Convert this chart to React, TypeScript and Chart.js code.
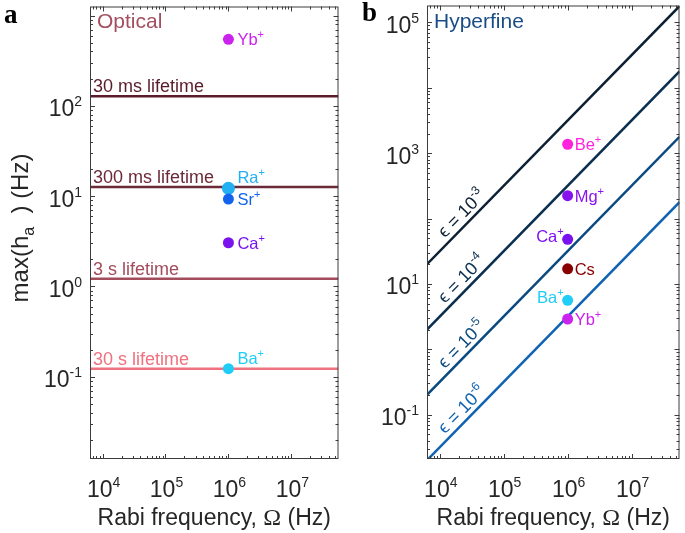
import React, { useEffect, useRef } from 'react';
import { Chart, registerables } from 'chart.js';
Chart.register(...registerables);

// ---------- data ----------
const X_MIN = 6310;
const X_MAX = 5.62e7;
const X_TICK_EXPS = [4, 5, 6, 7];

// panel a (optical)
const A_Y_MIN = 0.0123;
const A_Y_MAX = 1259;
const A_Y_TICK_EXPS = [-1, 0, 1, 2];
const lifetimeLabels = ['30 ms lifetime', '300 ms lifetime', '3 s lifetime', '30 s lifetime'];
const lifetimeLevels = [128, 12.6, 1.22, 0.123];
const lifetimeColors = ['#5a1c2a', '#6c2a38', '#a24c5c', '#f0717f'];
const opticalIons = ['Yb', 'Ra', 'Sr', 'Ca', 'Ba'];
const opticalOmega = [1e6, 1e6, 1e6, 1e6, 1e6];
const opticalH = [545, 12.2, 9.3, 3.05, 0.123];
const opticalColors = ['#cc22ee', '#22b0f2', '#1163ee', '#7a12f0', '#20cdf6'];

// panel b (hyperfine)
const B_Y_MIN = 0.0209;
const B_Y_MAX = 1.82e5;
const B_Y_TICK_EXPS = [-1, 1, 3, 5];
const epsExponents = ['-3', '-4', '-5', '-6'];
const epsStartH = [20, 2, 0.2, 0.02];
const epsEndH = [1.78e5, 1.78e4, 1780, 178];
const epsColors = ['#0c1f33', '#0b2f4f', '#0a4a80', '#1063b2'];
const epsLabelOmega = 2.9e4;
const hyperIons = ['Be', 'Mg', 'Ca', 'Cs', 'Ba', 'Yb'];
const hyperCharge = ['+', '+', '+', '', '+', '+'];
const hyperOmega = [1e6, 1e6, 1e6, 1e6, 1e6, 1e6];
const hyperH = [1370, 224, 48, 17, 5.6, 2.9];
const hyperColors = ['#ff22dd', '#8812ee', '#7a12f0', '#880000', '#20cdf6', '#cc22ee'];

// ---------- styling helpers ----------
const SANS = '"Liberation Sans", Arial, Helvetica, sans-serif';
const SERIF = '"Liberation Serif", "Times New Roman", serif';
const AXIS_COLOR = '#3c3c3c';
const TEXT_COLOR = '#262626';

type Seg = { t: string; size: number; dy?: number; family?: string; bold?: boolean };

function segFont(s: Seg) {
  return `${s.bold ? 'bold ' : ''}${s.size}px ${s.family || SANS}`;
}

function drawRich(ctx: CanvasRenderingContext2D, segs: Seg[], x: number, y: number, align: string, color: string) {
  let w = 0;
  for (const s of segs) {
    ctx.font = segFont(s);
    w += ctx.measureText(s.t).width;
  }
  let cx = align === 'left' ? x : align === 'center' ? x - w / 2 : x - w;
  ctx.fillStyle = color;
  ctx.textBaseline = 'alphabetic';
  ctx.textAlign = 'left';
  for (const s of segs) {
    ctx.font = segFont(s);
    ctx.fillText(s.t, cx, y + (s.dy || 0));
    cx += ctx.measureText(s.t).width;
  }
}

function tickSegs(e: number): Seg[] {
  return [
    { t: '10', size: 23 },
    { t: String(e), size: 14, dy: -10 },
  ];
}

function drawAxes(chart: any, yExps: number[]) {
  const ctx: CanvasRenderingContext2D = chart.ctx;
  const a = chart.chartArea;
  const xs = chart.scales.x;
  const ys = chart.scales.y;
  ctx.save();
  ctx.strokeStyle = AXIS_COLOR;
  ctx.lineWidth = 1;
  ctx.strokeRect(a.left + 0.5, a.top + 0.5, a.right - a.left - 1, a.bottom - a.top - 1);
  ctx.beginPath();
  // x ticks
  for (let e = Math.floor(Math.log10(xs.min)); e <= Math.ceil(Math.log10(xs.max)); e++) {
    for (let k = 1; k <= 9; k++) {
      const v = k * Math.pow(10, e);
      if (v < xs.min || v > xs.max) continue;
      const px = Math.round(xs.getPixelForValue(v)) + 0.5;
      const len = k === 1 ? 5 : 3;
      ctx.moveTo(px, a.bottom);
      ctx.lineTo(px, a.bottom - len);
      ctx.moveTo(px, a.top);
      ctx.lineTo(px, a.top + len);
    }
  }
  // y ticks
  for (let e = Math.floor(Math.log10(ys.min)); e <= Math.ceil(Math.log10(ys.max)); e++) {
    for (let k = 1; k <= 9; k++) {
      const v = k * Math.pow(10, e);
      if (v < ys.min || v > ys.max) continue;
      const py = Math.round(ys.getPixelForValue(v)) + 0.5;
      const len = k === 1 ? 5 : 3;
      ctx.moveTo(a.left, py);
      ctx.lineTo(a.left + len, py);
      ctx.moveTo(a.right, py);
      ctx.lineTo(a.right - len, py);
    }
  }
  ctx.stroke();
  // tick labels
  for (const e of X_TICK_EXPS) {
    const px = xs.getPixelForValue(Math.pow(10, e));
    drawRich(ctx, tickSegs(e), px + 1, a.bottom + 38, 'center', TEXT_COLOR);
  }
  for (const e of yExps) {
    const py = ys.getPixelForValue(Math.pow(10, e));
    drawRich(ctx, tickSegs(e), a.left - 8, py + 10.5, 'right', TEXT_COLOR);
  }
  // x title
  drawRich(
    ctx,
    [
      { t: 'Rabi frequency, ', size: 23 },
      { t: 'Ω', size: 24, family: SERIF },
      { t: ' (Hz)', size: 23 },
    ],
    (a.left + a.right) / 2,
    525,
    'center',
    TEXT_COLOR
  );
  ctx.restore();
}

function ionLabel(
  ctx: CanvasRenderingContext2D,
  name: string,
  charge: string,
  x: number,
  y: number,
  align: string,
  color: string
) {
  const segs: Seg[] = [{ t: name, size: 16.5 }];
  if (charge) segs.push({ t: charge, size: 11, dy: -7 });
  drawRich(ctx, segs, x, y, align, color);
}

const opticalPlugin = {
  id: 'opticalDeco',
  afterDraw(chart: any) {
    const ctx: CanvasRenderingContext2D = chart.ctx;
    const a = chart.chartArea;
    const xs = chart.scales.x;
    const ys = chart.scales.y;
    drawAxes(chart, A_Y_TICK_EXPS);
    ctx.save();
    // lifetime labels
    lifetimeLabels.forEach((lab, i) => {
      const py = ys.getPixelForValue(lifetimeLevels[i]);
      ctx.font = `18px ${SANS}`;
      ctx.fillStyle = lifetimeColors[i];
      ctx.textAlign = 'left';
      ctx.textBaseline = 'alphabetic';
      ctx.fillText(lab, a.left + 3, py - 4);
    });
    // ion labels
    opticalIons.forEach((ion, i) => {
      const px = xs.getPixelForValue(opticalOmega[i]);
      const py = ys.getPixelForValue(opticalH[i]);
      if (ion === 'Ra' || ion === 'Ba') {
        ionLabel(ctx, ion, '+', px + 9, py - 5, 'left', opticalColors[i]);
      } else {
        ionLabel(ctx, ion, '+', px + 9, py + 6, 'left', opticalColors[i]);
      }
    });
    // panel title
    ctx.font = `21px ${SANS}`;
    ctx.fillStyle = '#a44f5f';
    ctx.textAlign = 'left';
    ctx.fillText('Optical', a.left + 7, 28);
    // y title
    ctx.translate(28, 228);
    ctx.rotate(-Math.PI / 2);
    drawRich(
      ctx,
      [
        { t: 'max(h', size: 24 },
        { t: 'a', size: 16, dy: 6 },
        { t: '  ) (Hz)', size: 24 },
      ],
      0,
      0,
      'center',
      TEXT_COLOR
    );
    ctx.restore();
    ctx.save();
    drawRich(ctx, [{ t: 'a', size: 27, bold: true, family: SERIF }], 4, 23, 'left', '#000');
    ctx.restore();
  },
};

const hyperPlugin = {
  id: 'hyperDeco',
  afterDraw(chart: any) {
    const ctx: CanvasRenderingContext2D = chart.ctx;
    const a = chart.chartArea;
    const xs = chart.scales.x;
    const ys = chart.scales.y;
    drawAxes(chart, B_Y_TICK_EXPS);
    ctx.save();
    // epsilon labels along lines
    const lx0 = Math.log10(X_MIN);
    const lx1 = Math.log10(X_MAX);
    const t = (Math.log10(epsLabelOmega) - lx0) / (lx1 - lx0);
    epsExponents.forEach((ex, i) => {
      const p0x = xs.getPixelForValue(X_MIN);
      const p0y = ys.getPixelForValue(epsStartH[i]);
      const p1x = xs.getPixelForValue(X_MAX);
      const p1y = ys.getPixelForValue(epsEndH[i]);
      const hy = Math.pow(10, Math.log10(epsStartH[i]) + t * (Math.log10(epsEndH[i]) - Math.log10(epsStartH[i])));
      const cx = xs.getPixelForValue(epsLabelOmega);
      const cy = ys.getPixelForValue(hy);
      const dx = p1x - p0x;
      const dy = p1y - p0y;
      const len = Math.hypot(dx, dy);
      const nx = dy / len;
      const ny = -dx / len;
      ctx.save();
      ctx.translate(cx + nx * 5, cy + ny * 5);
      ctx.rotate(Math.atan2(dy, dx));
      drawRich(
        ctx,
        [
          { t: 'ϵ = 10', size: 18 },
          { t: ex, size: 12, dy: -8 },
        ],
        0,
        0,
        'center',
        epsColors[i]
      );
      ctx.restore();
    });
    // ion labels
    hyperIons.forEach((ion, i) => {
      const px = xs.getPixelForValue(hyperOmega[i]);
      const py = ys.getPixelForValue(hyperH[i]);
      if (ion === 'Ca' || ion === 'Ba') {
        ionLabel(ctx, ion, hyperCharge[i], px - 4, py + 3, 'right', hyperColors[i]);
      } else {
        ionLabel(ctx, ion, hyperCharge[i], px + 7, py + 6, 'left', hyperColors[i]);
      }
    });
    ctx.font = `21px ${SANS}`;
    ctx.fillStyle = '#1a4c85';
    ctx.textAlign = 'left';
    ctx.textBaseline = 'alphabetic';
    ctx.fillText('Hyperfine', a.left + 7, 28);
    drawRich(ctx, [{ t: 'b', size: 27, bold: true, family: SERIF }], 17, 21, 'left', '#000');
    ctx.restore();
  },
};

function baseOptions(yMin: number, yMax: number, padding: any) {
  return {
    responsive: false,
    animation: false,
    events: [],
    layout: { padding },
    plugins: { legend: { display: false }, tooltip: { enabled: false } },
    scales: {
      x: { type: 'logarithmic', min: X_MIN, max: X_MAX, display: false },
      y: { type: 'logarithmic', min: yMin, max: yMax, display: false },
    },
  };
}

export default function App() {
  const leftRef = useRef<HTMLCanvasElement>(null);
  const rightRef = useRef<HTMLCanvasElement>(null);

  useEffect(() => {
    const leftDatasets: any[] = lifetimeLevels.map((v, i) => ({
      data: [
        { x: X_MIN, y: v },
        { x: X_MAX, y: v },
      ],
      showLine: true,
      borderColor: lifetimeColors[i],
      borderWidth: 2.5,
      pointRadius: 0,
      order: 2,
    }));
    leftDatasets.push({
      data: opticalH.map((h, i) => ({ x: opticalOmega[i], y: h })),
      showLine: false,
      pointRadius: opticalIons.map((n) => (n === 'Ra' ? 6.5 : 5.5)),
      pointBackgroundColor: opticalColors,
      pointBorderWidth: 0,
      order: 1,
    });
    const left = new Chart(leftRef.current as HTMLCanvasElement, {
      type: 'scatter',
      data: { datasets: leftDatasets },
      options: baseOptions(A_Y_MIN, A_Y_MAX, { left: 90, right: 3, top: 3, bottom: 74 }) as any,
      plugins: [opticalPlugin],
    });

    const rightDatasets: any[] = epsStartH.map((v, i) => ({
      data: [
        { x: X_MIN, y: v },
        { x: X_MAX, y: epsEndH[i] },
      ],
      showLine: true,
      borderColor: epsColors[i],
      borderWidth: 2.5,
      pointRadius: 0,
      order: 2,
    }));
    rightDatasets.push({
      data: hyperH.map((h, i) => ({ x: hyperOmega[i], y: h })),
      showLine: false,
      pointRadius: 5.5,
      pointBackgroundColor: hyperColors,
      pointBorderWidth: 0,
      order: 1,
    });
    const right = new Chart(rightRef.current as HTMLCanvasElement, {
      type: 'scatter',
      data: { datasets: rightDatasets },
      options: baseOptions(B_Y_MIN, B_Y_MAX, { left: 82, right: 2, top: 3, bottom: 74 }) as any,
      plugins: [hyperPlugin],
    });
    return () => {
      left.destroy();
      right.destroy();
    };
  }, []);

  return (
    <div style={{ position: 'absolute', left: 0, top: 0, width: 685, height: 533, background: '#fff' }}>
      <canvas ref={leftRef} width={345} height={533} style={{ position: 'absolute', left: 0, top: 0 }} />
      <canvas ref={rightRef} width={340} height={533} style={{ position: 'absolute', left: 345, top: 0 }} />
    </div>
  );
}
